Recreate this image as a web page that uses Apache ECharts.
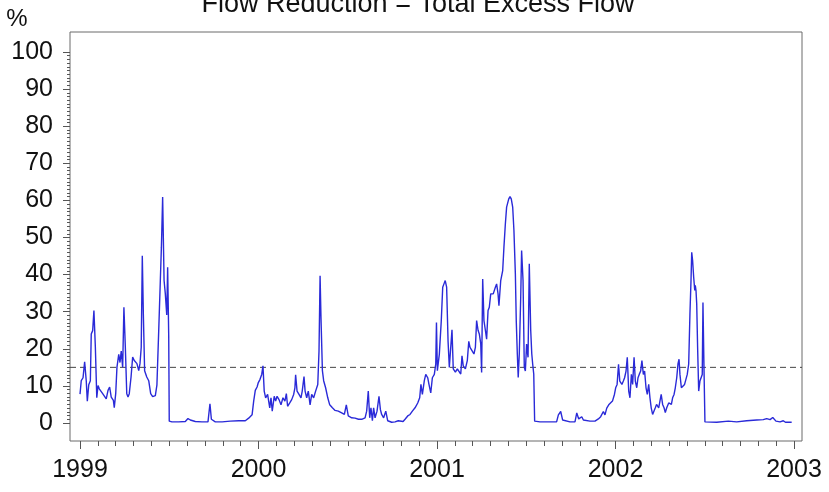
<!DOCTYPE html>
<html><head><meta charset="utf-8">
<script src="https://cdn.jsdelivr.net/npm/echarts@6/dist/echarts.min.js"></script>
<style>html,body{margin:0;padding:0;background:#fff}#c{width:829px;height:492px}</style>
</head><body><div id="c"></div>
<script>
const titleText = 'Flow Reduction = Total Excess Flow';
const unitLabel = '%';
const yearTicks = [1999, 2000, 2001, 2002, 2003];
const threshold = 15;
// [fraction of year, % value]
const flow1999 = [[0.000,7.8],[0.007,11.4],[0.017,12.2],[0.026,16.5],[0.035,11.4],[0.041,5.9],[0.049,10.3],[0.058,11.4],[0.063,24],[0.071,24.9],
[0.078,30.3],[0.086,20.5],[0.094,6.8],[0.101,10.1],[0.108,9.2],[0.119,8.8],[0.127,7.9],[0.138,8.3],[0.147,6.5],[0.157,8.8],
[0.166,9.7],[0.175,7],[0.187,6.1],[0.192,4.1],[0.200,7.9],[0.207,15],[0.217,18.5],[0.224,16.3],[0.231,19.4],[0.239,15],
[0.246,31.2],[0.254,20.4],[0.262,7.9],[0.269,7],[0.276,7.9],[0.286,12.4],[0.295,17.8],[0.303,16.9],[0.310,16.4],[0.319,16],
[0.329,14.1],[0.336,16],[0.343,20.4],[0.349,45.1],[0.355,29.1],[0.362,14.1],[0.374,12.4],[0.385,11.4],[0.396,7.9],[0.407,7.1],
[0.422,7.4],[0.431,10.3],[0.441,24.9],[0.450,38.4],[0.456,47.4],[0.463,60.9],[0.471,38.4],[0.478,34.8],[0.486,29.1],[0.491,42],
[0.497,23.6],[0.500,0.5],[0.515,0.3],[0.553,0.3],[0.590,0.4],[0.605,1.2],[0.618,0.8],[0.646,0.4],[0.683,0.3],[0.717,0.3],
[0.728,5.2],[0.736,1],[0.758,0.3],[0.796,0.3],[0.842,0.5],[0.889,0.6],[0.926,0.6],[0.945,1.3],[0.964,2.2],[0.973,5.9],
[0.982,8.8],[0.992,9.7],[0.999,10.9]];
const flow2000 = [[0.008,11.7],[0.018,13.1],[0.025,15.4],[0.032,8.6],[0.040,6.8],[0.051,7.7],[0.063,4.1],[0.070,6.8],[0.077,3.2],[0.088,7.2],
[0.096,5.9],[0.104,7.2],[0.115,6.3],[0.126,4.9],[0.137,6.8],[0.148,5.9],[0.156,7.9],[0.163,4.5],[0.175,5.4],[0.186,6.3],
[0.197,7.7],[0.204,9.5],[0.208,13],[0.216,8.6],[0.227,7.7],[0.238,6.8],[0.245,8.6],[0.255,12.5],[0.261,8.6],[0.270,6.8],
[0.279,8.6],[0.289,4.9],[0.298,7.7],[0.309,6.8],[0.320,8.6],[0.332,10.4],[0.339,19.4],[0.345,39.7],[0.350,28.5],[0.358,14.1],
[0.365,11.4],[0.376,9.5],[0.388,6.8],[0.399,4.9],[0.414,4.1],[0.429,3.4],[0.447,3.2],[0.466,2.7],[0.481,2.3],[0.492,4.9],
[0.503,1.9],[0.522,1.4],[0.541,1.3],[0.560,1],[0.578,1],[0.597,1.4],[0.606,3.2],[0.615,8.6],[0.623,1.4],[0.630,4.1],
[0.638,0.6],[0.645,4.1],[0.653,1.4],[0.664,3.2],[0.675,7.2],[0.683,3.6],[0.690,2.3],[0.701,1.4],[0.713,3.2],[0.724,0.6],
[0.735,0.4],[0.746,0.2],[0.765,0.3],[0.783,0.6],[0.794,1],[0.810,0.4],[0.821,1],[0.836,1.9],[0.849,2.3],[0.862,3.2],
[0.877,4.1],[0.892,5.4],[0.903,6.8],[0.910,10.4],[0.918,7.7],[0.929,11.4],[0.937,13.1],[0.948,12.2],[0.955,10.4],[0.965,8.1],
[0.974,12.2],[0.985,13.1],[0.993,15.9],[0.997,27.1]];
const flow2001 = [[0.002,14.1],[0.013,18.5],[0.024,27.6],[0.032,36.6],[0.039,37.5],[0.046,38.4],[0.054,36.6],[0.062,22],[0.069,15],[0.077,20.4],
[0.084,25.1],[0.091,14.6],[0.103,13.7],[0.114,14.6],[0.125,15],[0.133,13.2],[0.140,18.1],[0.147,15.4],[0.159,14.6],[0.170,16.9],
[0.178,22],[0.185,20.4],[0.196,19.5],[0.207,18.6],[0.215,20.4],[0.222,27.6],[0.230,25],[0.237,24],[0.245,21.4],[0.250,13.6],
[0.256,38.8],[0.263,27.6],[0.271,25],[0.278,22.6],[0.286,30.3],[0.293,31.2],[0.301,34.8],[0.308,35.2],[0.315,34.8],[0.327,36.6],
[0.334,37.5],[0.342,34.8],[0.347,31.6],[0.357,38.4],[0.368,41.1],[0.375,47.4],[0.383,53.7],[0.390,58.2],[0.402,60.4],[0.409,61],
[0.416,60.4],[0.424,58.2],[0.431,51.9],[0.439,40.2],[0.444,27.6],[0.450,18.6],[0.455,12.3],[0.461,18.6],[0.469,33.9],[0.474,46.5],
[0.482,38.4],[0.489,15],[0.495,14],[0.502,21.3],[0.510,17.7],[0.517,42.9],[0.525,25],[0.531,18.6],[0.536,15.9],[0.542,13.2],
[0.547,0.5],[0.577,0.3],[0.633,0.3],[0.670,0.3],[0.680,2.2],[0.693,3.1],[0.704,0.8],[0.745,0.3],[0.773,0.3],[0.783,2.7],
[0.794,1.1],[0.811,1.7],[0.820,0.8],[0.857,0.5],[0.885,0.5],[0.904,1.1],[0.917,1.7],[0.932,3.1],[0.941,2.2],[0.951,4],
[0.962,4.9],[0.972,4.5],[0.983,5.9],[0.994,7.7]];
const flow2002 = [[0.001,9.5],[0.009,10.4],[0.017,15.8],[0.024,11.3],[0.029,10.9],[0.036,10.4],[0.044,11.3],[0.051,12.2],[0.059,14],[0.066,17.7],
[0.074,8.6],[0.081,6.8],[0.089,13.1],[0.096,10.4],[0.104,17.7],[0.111,11.3],[0.119,9.5],[0.126,12.2],[0.133,13.1],[0.141,14],
[0.148,16.8],[0.156,13.1],[0.163,14],[0.171,9.5],[0.178,7.7],[0.186,10.4],[0.193,6.8],[0.200,4.1],[0.208,2.3],[0.215,2.8],
[0.223,4.1],[0.230,5],[0.242,4.1],[0.249,5.9],[0.256,7.7],[0.264,5],[0.272,4.1],[0.279,2.8],[0.287,4.1],[0.298,5.4],
[0.305,5.9],[0.313,5],[0.320,6.8],[0.328,7.7],[0.335,9.5],[0.343,12.2],[0.350,15.9],[0.356,17.2],[0.361,13.1],[0.369,9.5],
[0.376,9.9],[0.387,10.4],[0.395,10.9],[0.402,13.1],[0.410,15.9],[0.417,29.4],[0.423,38.4],[0.427,46],[0.432,43.8],[0.438,39.3],
[0.444,35.7],[0.447,37.1],[0.451,35.7],[0.455,32.1],[0.460,20.4],[0.466,8.6],[0.473,11.3],[0.481,11.7],[0.486,13.1],[0.490,32.5],
[0.496,14],[0.501,0.3],[0.567,0.2],[0.632,0.5],[0.679,0.3],[0.735,0.6],[0.791,0.8],[0.828,0.9],[0.847,1.2],[0.866,0.9],
[0.881,1.5],[0.899,0.5],[0.922,0.3],[0.940,0.6],[0.952,0.2],[0.987,0.2]];

const years = [[1999, flow1999], [2000, flow2000], [2001, flow2001], [2002, flow2002]];
const seriesData = [];
years.forEach(([yr, arr]) => arr.forEach(([f, v]) => seriesData.push([yr + f, v])));

const FONT = 'Liberation Sans, Arial, sans-serif';
const chart = echarts.init(document.getElementById('c'));
chart.setOption({
  animation: false,
  backgroundColor: '#ffffff',
  graphic: [
    { type: 'text', x: 418, y: 5, style: { text: titleText, fontSize: 27, fontFamily: FONT, fill: '#111', align: 'center', verticalAlign: 'middle' } },
    { type: 'text', x: 17, y: 19, style: { text: unitLabel, fontSize: 24, fontFamily: FONT, fill: '#111', align: 'center', verticalAlign: 'middle' } }
  ],
  grid: [
    { left: 80, right: 35, top: 52, bottom: 69 },
    { left: 70, right: 27, top: 32, bottom: 51, show: true, borderColor: '#6a6a6a', borderWidth: 1, backgroundColor: 'transparent' }
  ],
  xAxis: [
    { type: 'value', gridIndex: 0, min: yearTicks[0], max: yearTicks[yearTicks.length - 1], interval: 1, offset: 18,
      axisLine: { show: false, onZero: false },
      axisTick: { show: true, length: 8, lineStyle: { color: '#555' } },
      minorTick: { show: true, splitNumber: 10, length: 5, lineStyle: { color: '#555' } },
      splitLine: { show: false },
      axisLabel: { fontSize: 25, fontFamily: FONT, color: '#111', margin: 17, formatter: v => String(v) } },
    { type: 'value', gridIndex: 1, min: 0, max: 1, show: false }
  ],
  yAxis: [
    { type: 'value', gridIndex: 0, min: 0, max: 100, interval: 10, offset: 10,
      axisLine: { show: false, onZero: false },
      axisTick: { show: true, length: 7, lineStyle: { color: '#555' } },
      minorTick: { show: true, splitNumber: 10, length: 3, lineStyle: { color: '#555' } },
      splitLine: { show: false },
      axisLabel: { fontSize: 25, fontFamily: FONT, color: '#111', margin: 17 } },
    { type: 'value', gridIndex: 1, min: -(441 - 423) / 3.71, max: 100 + (52 - 32) / 3.71, show: false }
  ],
  series: [
    { type: 'line', xAxisIndex: 1, yAxisIndex: 1, data: [[0, threshold], [1, threshold]], symbol: 'none', silent: true,
      lineStyle: { color: '#444', width: 1, type: [6, 4] } },
    { type: 'line', xAxisIndex: 0, yAxisIndex: 0, data: seriesData, symbol: 'none', silent: true,
      lineStyle: { color: '#2a2ad8', width: 1.4 } }
  ]
});
</script></body></html>
